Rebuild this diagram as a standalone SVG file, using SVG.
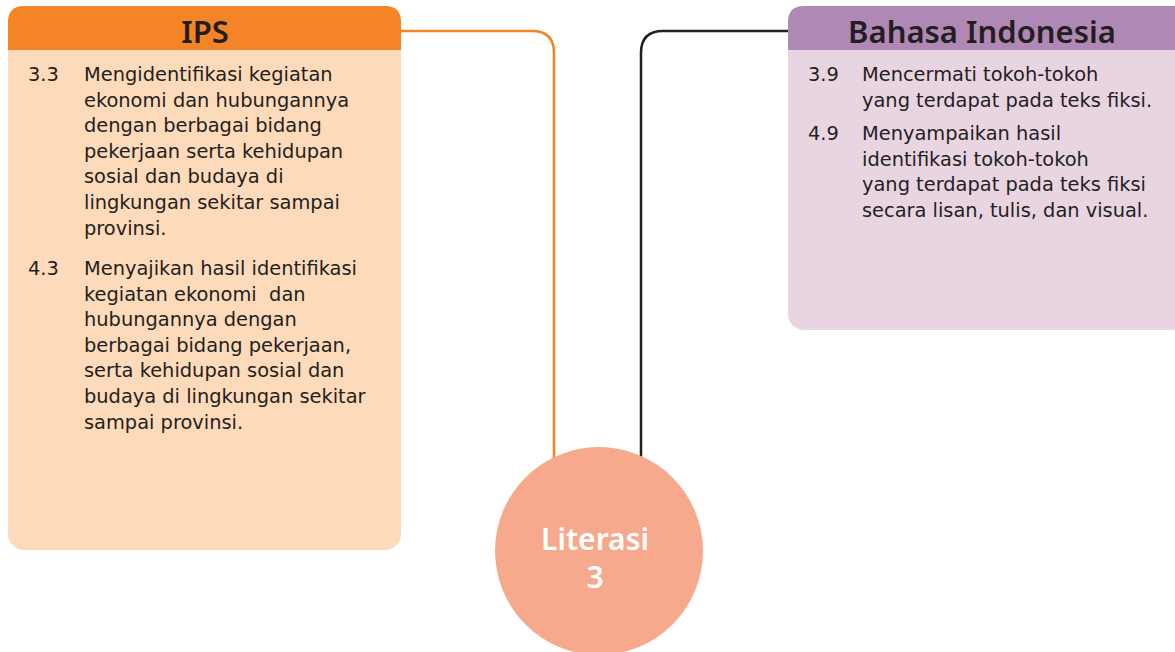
<svg xmlns="http://www.w3.org/2000/svg" width="1175" height="652" viewBox="0 0 1175 652">
<style>
.body{font-family:"DejaVu Sans","Noto Sans",sans-serif;font-size:19.4px;fill:#231F20}
.head{font-family:"Noto Sans","Open Sans",sans-serif;font-size:31px;font-weight:600;fill:#231F20;text-anchor:middle}
.circ{font-family:"Noto Sans","Open Sans",sans-serif;font-size:30px;font-weight:600;fill:#FFFFFF;text-anchor:middle}
</style>
<rect width="1175" height="652" fill="#FFFFFF"/>
<g id="connectors" fill="none" stroke-width="2.5">
<path d="M401 31 H532 Q554 31 554 53 V470" stroke="#F58426"/>
<path d="M788 31 H663 Q641 31 641 53 V470" stroke="#231F20"/>
</g>
<g id="ips">
<rect x="8" y="6" width="393" height="544" rx="16" fill="#FDDABA"/>
<path d="M8 50 V22 Q8 6 24 6 H385 Q401 6 401 22 V50 Z" fill="#F58426"/>
<text class="head" x="205" y="43">IPS</text>
<g class="body">
<text x="28" y="81">3.3</text>
<text x="84" y="81">Mengidentifikasi kegiatan</text>
<text x="84" y="106.6">ekonomi dan hubungannya</text>
<text x="84" y="132.2">dengan berbagai bidang</text>
<text x="84" y="157.8">pekerjaan serta kehidupan</text>
<text x="84" y="183.4">sosial dan budaya di</text>
<text x="84" y="209">lingkungan sekitar sampai</text>
<text x="84" y="234.6">provinsi.</text>
<text x="28" y="275">4.3</text>
<text x="84" y="275">Menyajikan hasil identifikasi</text>
<text x="84" y="300.6" style="white-space:pre">kegiatan ekonomi  dan</text>
<text x="84" y="326.2">hubungannya dengan</text>
<text x="84" y="351.8">berbagai bidang pekerjaan,</text>
<text x="84" y="377.4">serta kehidupan sosial dan</text>
<text x="84" y="403">budaya di lingkungan sekitar</text>
<text x="84" y="428.6">sampai provinsi.</text>
</g>
</g>
<g id="bahasa">
<rect x="788" y="6" width="400" height="324" rx="16" fill="#E9D4E2"/>
<path d="M788 50 V22 Q788 6 804 6 H1175 V50 Z" fill="#B088B6"/>
<text class="head" x="982" y="43">Bahasa Indonesia</text>
<g class="body">
<text x="808" y="81">3.9</text>
<text x="862" y="81">Mencermati tokoh-tokoh</text>
<text x="862" y="106.6">yang terdapat pada teks fiksi.</text>
<text x="808" y="140">4.9</text>
<text x="862" y="140">Menyampaikan hasil</text>
<text x="862" y="165.6">identifikasi tokoh-tokoh</text>
<text x="862" y="191.2">yang terdapat pada teks fiksi</text>
<text x="862" y="216.8">secara lisan, tulis, dan visual.</text>
</g>
</g>
<g id="literasi">
<circle cx="599" cy="551" r="104" fill="#F7A98D"/>
<text class="circ" x="595" y="550">Literasi</text>
<text class="circ" x="595" y="588">3</text>
</g>
</svg>
